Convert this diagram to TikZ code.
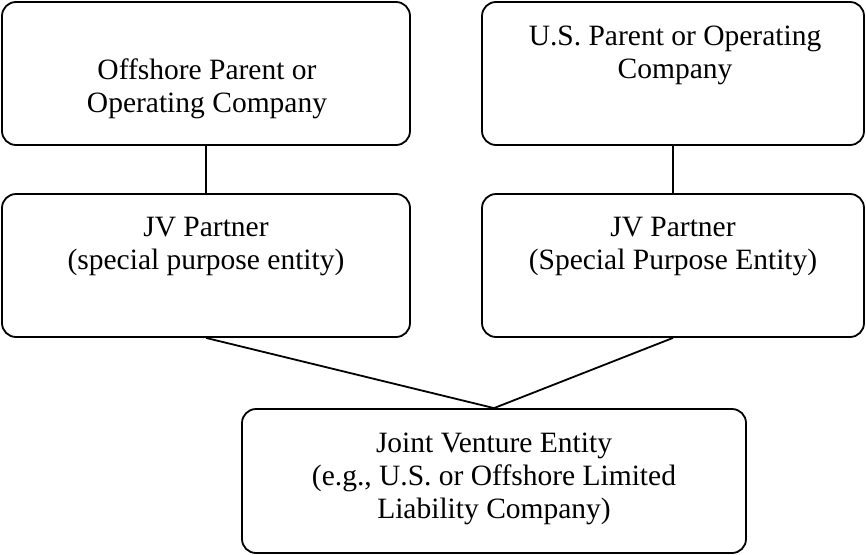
\documentclass[tikz,border=0pt]{standalone}
\usepackage{fontspec}
\setmainfont{Liberation Serif}
\begin{document}
\begin{tikzpicture}[x=1pt,y=-1pt,
  box/.style={draw=black, line width=1.8pt, rounded corners=14pt, inner sep=0pt, minimum height=143pt},
  txt/.style={align=center, inner sep=0pt, anchor=base, font=\fontsize{29.5}{33}\selectfont},
  link/.style={draw=black, line width=1.8pt}]
\useasboundingbox (0,0) rectangle (866,554);
\fill[white] (0,0) rectangle (866,554);
\node[box, minimum width=408pt] (op) at (206,73.5) {};
\node[box, minimum width=382pt] (us) at (673,73.5) {};
\node[box, minimum width=408pt] (jvl) at (206,265.5) {};
\node[box, minimum width=382pt] (jvr) at (673,265.5) {};
\node[box, minimum width=504pt, minimum height=144pt] (jv) at (494,481) {};
\node[txt] (opT) at (207,112) {Offshore Parent or\\Operating Company};
\node[txt] (usT) at (675,78) {U.S. Parent or Operating\\Company};
\node[txt] (jvlT) at (206,269) {JV Partner\\(special purpose entity)};
\node[txt] (jvrT) at (673,269) {JV Partner\\(Special Purpose Entity)};
\node[txt] (jvT) at (494,518) {Joint Venture Entity\\(e.g., U.S. or Offshore Limited\\Liability Company)};
\draw[link] (op.south) -- (jvl.north);
\draw[link] (us.south) -- (jvr.north);
\draw[link] (jvl.south) -- (jv.north);
\draw[link] (jvr.south) -- (jv.north);
\end{tikzpicture}
\end{document}
